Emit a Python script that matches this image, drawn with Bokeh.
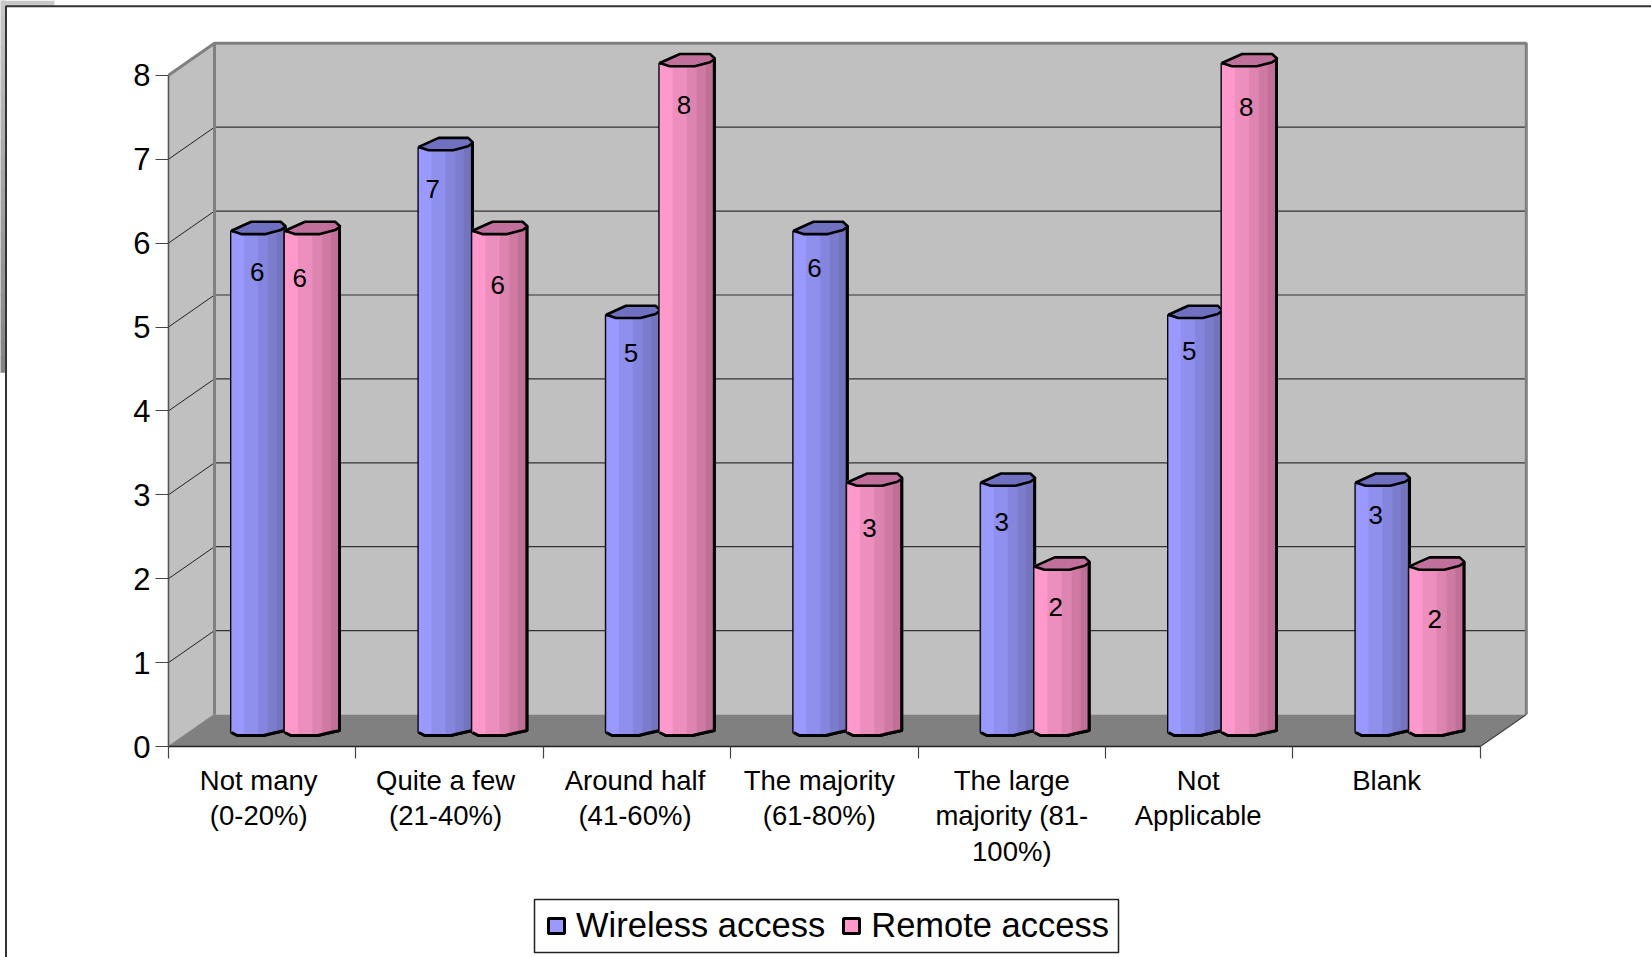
from bokeh.plotting import figure
from bokeh.core.properties import value
from bokeh.models import Range1d, LinearAxis, FixedTicker, Legend, LegendItem, BoxAnnotation
from bokeh.embed import file_html
from bokeh.resources import INLINE

CATEGORIES = ["Not many\n(0-20%)", "Quite a few\n(21-40%)", "Around half\n(41-60%)",
              "The majority\n(61-80%)", "The large\nmajority (81-\n100%)",
              "Not\nApplicable", "Blank"]
WIRELESS = [6, 7, 5, 6, 3, 5, 3]
REMOTE = [6, 6, 8, 3, 2, 8, 2]
Y_TICKS = [0, 1, 2, 3, 4, 5, 6, 7, 8]
SERIES_NAMES = ["Wireless access", "Remote access"]

# layout (pixels of the 1651x957 page)
W, H = 1651, 957
X0, CAT_PX = 168.0, 187.4
Y0, UNIT_PX = 746.0, 83.9
DX, DY = 46 / CAT_PX, 32 / UNIT_PX           # depth of the 3-D box in data units
BASE_LIFT = 11 / UNIT_PX                     # bars stand a little behind the front edge
BLUE_OFF, BLUE_W = 63 / CAT_PX, 53.5 / CAT_PX
PINK_OFF, PINK_W = 116.5 / CAT_PX, 54.5 / CAT_PX
fx = lambda px: (px - X0) / CAT_PX
fy = lambda py: (Y0 - py) / UNIT_PX
up = lambda px: px / UNIT_PX
n = len(CATEGORIES)

p = figure(width=W, height=H, output_backend="svg", toolbar_location=None,
           x_range=Range1d(fx(0), fx(W)), y_range=Range1d(fy(H), fy(0)),
           min_border=0, outline_line_color=None, background_fill_color="white",
           border_fill_color="white")
p.xaxis.visible = False
p.yaxis.visible = False
p.grid.visible = False

# page decoration left from the source document
steps = 24
for k in range(steps):
    g = int(198 - (198 - 132) * k / (steps - 1))
    p.quad(left=fx(0), right=fx(5), top=fy(372 * k / steps), bottom=fy(372 * (k + 1) / steps),
           fill_color=(g, g, g), line_color=(g, g, g), line_width=0.6)
p.quad(left=fx(0), right=fx(54), top=fy(0), bottom=fy(5.2), fill_color="#c8c8c8", line_color=None)
p.line([fx(5.5), fx(5.5), fx(W)], [fy(H), fy(5.8), fy(5.8)], line_color="#333333", line_width=2)

# 3-D box
ymax = Y_TICKS[-1]
p.patch([0, DX, DX, 0], [0, DY, ymax + DY, ymax], fill_color="#c0c0c0", line_color=None)
p.quad(left=DX, right=n + DX, bottom=DY, top=ymax + DY, fill_color="#c0c0c0", line_color=None)
p.patch([0, n, n + DX, DX], [0, 0, DY, DY], fill_color="#808080", line_color=None)
for v in Y_TICKS[1:-1]:
    p.line([0, DX], [v, v + DY], line_color="#222222", line_width=1)
    p.line([DX, n + DX], [v + DY, v + DY], line_color="#333333", line_width=1.2)
p.line([0, DX, n + DX, n + DX], [ymax, ymax + DY, ymax + DY, DY], line_color="#808080", line_width=3)
p.line([DX, DX], [DY, ymax + DY], line_color="#808080", line_width=3)
p.line([n, n + DX], [0, DY], line_color="#444444", line_width=1.2)
p.line([0, DX], [0, DY], line_color="#808080", line_width=1.2)

# cylinders
CAP = [(0, 3.3), (.245, 9.3), (.37, 12.3), (.92, 12.3), (1.015, 7.6), (.92, 4), (.64, 0), (.18, 0)]
FOOT = [(0, 3), (.11, 0), (.6, 0), (.75, 2), (1, 5)]
STRIPS = [0, .24, .5, .68, .84, 1]
BLUE_SHADES = ["#9999ff", "#8f8fee", "#8585de", "#7c7ccd", "#7373be"]
PINK_SHADES = ["#ff99cc", "#ec8ebe", "#de84b0", "#cf7aa3", "#c07096"]


def foot(t):
    for (a, ua), (b, ub) in zip(FOOT, FOOT[1:]):
        if a <= t <= b:
            return ua + (ub - ua) * (t - a) / (b - a)
    return 0


def foot_path(t0, t1):
    ts = [t0] + [t for t, _ in FOOT if t0 < t < t1] + [t1]
    return ts, [BASE_LIFT + up(foot(t)) for t in ts]


def bars(values, off, width, shades, cap_color):
    xs_body, ys_body, xs_cap, ys_cap = [], [], [], []
    strips = [([], []) for _ in shades]
    for i, v in enumerate(values):
        left = i + off
        top = v + BASE_LIFT - up(2)
        ts, ly = foot_path(0, 1)
        xs_body.append([left + t * width for t in ts] + [left + width, left])
        ys_body.append(ly + [top + up(7), top + up(3)])
        xs_cap.append([left + t * width for t, _ in CAP])
        ys_cap.append([top + up(u) for _, u in CAP])
        for k in range(len(shades)):
            ts, ly = foot_path(STRIPS[k], STRIPS[k + 1])
            strips[k][0].append([left + t * width for t in ts] + [left + STRIPS[k + 1] * width, left + STRIPS[k] * width])
            strips[k][1].append(ly + [top + up(5), top + up(5)])
    body = p.patches(xs_body, ys_body, fill_color=shades[0], line_color="black", line_width=3)
    for k, c in enumerate(shades):
        p.patches(strips[k][0], strips[k][1], fill_color=c, line_color=c, line_width=0.3)
    p.multi_line(xs_body, ys_body, line_color="black", line_width=3, line_join="round")
    p.patches(xs_cap, ys_cap, fill_color=cap_color, line_color="black", line_width=2.6)
    return body


blue = bars(WIRELESS, BLUE_OFF, BLUE_W, BLUE_SHADES, "#7070c0")
pink = bars(REMOTE, PINK_OFF, PINK_W, PINK_SHADES, "#c0709a")

# value labels (nudges in px from the bar's centre and top)
BLUE_NUDGE = [(-1, 40), (-13, 41), (-2, 37), (-6, 36), (-6, 38), (-6, 35), (-7, 31)]
PINK_NUDGE = [(-12.5, 46), (-2, 53), (-3, 41), (-5, 44), (-6, 39), (-3, 43), (-2, 51)]
for values, off, width, nudge in ((WIRELESS, BLUE_OFF, BLUE_W, BLUE_NUDGE), (REMOTE, PINK_OFF, PINK_W, PINK_NUDGE)):
    p.text(x=[i + off + width / 2 + nudge[i][0] / CAT_PX for i in range(n)],
           y=[values[i] + BASE_LIFT - up(nudge[i][1]) for i in range(n)],
           text=[str(v) for v in values], text_align="center", text_baseline="middle",
           text_font=value("Liberation Sans"), text_font_size="26px", text_color="black")

# axes
yax = LinearAxis(fixed_location=0, ticker=FixedTicker(ticks=Y_TICKS), bounds=(0, ymax),
                 axis_line_color="#555555", axis_line_width=1.6,
                 major_tick_line_color="#444444", major_tick_line_width=1.2,
                 major_tick_out=13, major_tick_in=0, minor_tick_out=0, minor_tick_in=0,
                 major_label_text_font="Liberation Sans", major_label_text_font_size="31px",
                 major_label_text_color="black", major_label_standoff=5)
p.add_layout(yax, "left")
LABEL_NUDGE = [-3.5, -4, -2, -5, 0, -1, 0]      # px, category labels sit a little left of centre
mids = [i + .5 + LABEL_NUDGE[i] / CAT_PX for i in range(n)]
xax = LinearAxis(fixed_location=0, ticker=FixedTicker(ticks=mids, minor_ticks=list(range(n + 1))),
                 bounds=(0, n), axis_line_color="#222222", axis_line_width=1.5,
                 major_tick_out=0, major_tick_in=0, minor_tick_out=12, minor_tick_in=0,
                 minor_tick_line_color="#444444", minor_tick_line_width=1.2,
                 major_label_overrides=dict(zip(mids, CATEGORIES)),
                 major_label_text_font="Liberation Sans", major_label_text_font_size="27.5px",
                 major_label_text_color="black", major_label_standoff=6,
                 major_label_text_line_height=1.15, major_label_orientation="horizontal")
p.add_layout(xax, "below")

# legend
p.add_layout(BoxAnnotation(left=534, right=1118, top=899, bottom=952, left_units="canvas", right_units="canvas",
                           top_units="canvas", bottom_units="canvas", fill_color="white", fill_alpha=1,
                           line_color="#222222", line_alpha=1, line_width=1.5, level="overlay"))
legend = Legend(items=[LegendItem(label=SERIES_NAMES[0], renderers=[blue]), LegendItem(label=SERIES_NAMES[1], renderers=[pink])],
                orientation="horizontal", location=(546, 12), margin=0, padding=13, spacing=16,
                glyph_width=20, glyph_height=19, label_standoff=10, border_line_color=None,
                background_fill_alpha=0, label_text_font="Liberation Sans",
                label_text_font_size="34.5px", label_text_color="black")
p.add_layout(legend, "center")

open("out.html", "w").write(file_html(p, INLINE))
